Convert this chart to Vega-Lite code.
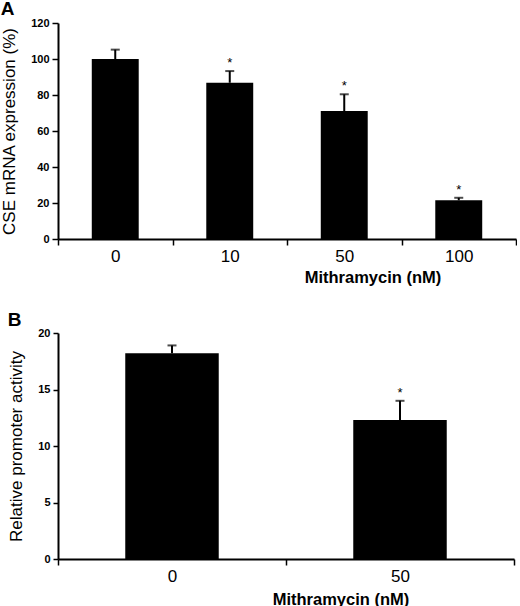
{
  "$schema": "https://vega.github.io/schema/vega-lite/v6.json",
  "padding": 0,
  "background": "white",
  "spacing": 25,
  "columns": 1,
  "align": "none",
  "config": {
    "font": "Liberation Sans",
    "view": {"stroke": null},
    "axis": {
      "grid": false,
      "domainColor": "black",
      "tickColor": "black",
      "labelColor": "black",
      "titleColor": "black",
      "domainWidth": 2,
      "tickWidth": 1.5
    },
    "title": {"anchor": "start", "frame": "bounds", "fontSize": 19, "fontWeight": "bold", "color": "black"}
  },
  "datasets": {
    "a": [
      {"dose": "0", "value": 100, "upper": 105.2, "sig": ""},
      {"dose": "10", "value": 86.8, "upper": 93.3, "sig": "*"},
      {"dose": "50", "value": 71.1, "upper": 80.4, "sig": "*"},
      {"dose": "100", "value": 21.5, "upper": 22.9, "sig": "*"}
    ],
    "b": [
      {"dose": "0", "value": 18.2, "upper": 18.9, "sig": ""},
      {"dose": "50", "value": 12.3, "upper": 14.0, "sig": "*"}
    ]
  },
  "concat": [
    {
      "title": {"text": "A", "offset": -2},
      "width": 458,
      "height": 216,
      "data": {"name": "a"},
      "encoding": {
        "x": {
          "field": "dose", "type": "nominal", "sort": null,
          "scale": {"paddingInner": 0, "paddingOuter": 0},
          "axis": {
            "labelAngle": 0, "tickBand": "extent", "labelFontSize": 17, "labelFontWeight": "normal",
            "tickSize": 6, "labelPadding": 3, "title": "Mithramycin (nM)", "titleFontSize": 16.5,
            "titleFontWeight": "bold", "titleX": 314.5, "titleY": 30, "titleAlign": "center", "titleBaseline": "top"
          }
        },
        "y": {
          "field": "value", "type": "quantitative", "title": "CSE mRNA expression (%)",
          "scale": {"domain": [0, 120]},
          "axis": {
            "values": [0, 20, 40, 60, 80, 100, 120], "labelFontSize": 11, "labelFontWeight": "bold",
            "tickSize": 6, "labelPadding": 3, "titleFontSize": 17, "titleFontWeight": "normal", "titlePadding": 12
          }
        }
      },
      "layer": [
        {"mark": {"type": "bar", "color": "black", "width": {"band": 0.41}}},
        {"mark": {"type": "rule", "color": "black", "strokeWidth": 2}, "encoding": {"y2": {"field": "upper"}}},
        {"mark": {"type": "tick", "color": "black", "thickness": 2, "size": 9},
         "encoding": {"y": {"field": "upper", "type": "quantitative", "title": "CSE mRNA expression (%)"}}},
        {"mark": {"type": "text", "color": "black", "fontSize": 13, "baseline": "alphabetic", "dy": -4},
         "encoding": {"y": {"field": "upper", "type": "quantitative", "title": "CSE mRNA expression (%)"}, "text": {"field": "sig"}}}
      ]
    },
    {
      "title": {"text": "B", "offset": -3},
      "width": 456,
      "height": 226,
      "data": {"name": "b"},
      "encoding": {
        "x": {
          "field": "dose", "type": "nominal", "sort": null,
          "scale": {"paddingInner": 0, "paddingOuter": 0},
          "axis": {
            "labelAngle": 0, "tickBand": "extent", "labelFontSize": 17, "labelFontWeight": "normal",
            "tickSize": 6, "labelPadding": 3, "title": "Mithramycin (nM)", "titleFontSize": 16.5,
            "titleFontWeight": "bold", "titleX": 282.5, "titleY": 32, "titleAlign": "center", "titleBaseline": "top"
          }
        },
        "y": {
          "field": "value", "type": "quantitative", "title": "Relative promoter activity",
          "scale": {"domain": [0, 20]},
          "axis": {
            "values": [0, 5, 10, 15, 20], "labelFontSize": 11, "labelFontWeight": "bold",
            "tickSize": 5, "labelPadding": 3, "titleFontSize": 17, "titleFontWeight": "normal", "titlePadding": 12
          }
        }
      },
      "layer": [
        {"mark": {"type": "bar", "color": "black", "width": {"band": 0.41}}},
        {"mark": {"type": "rule", "color": "black", "strokeWidth": 2}, "encoding": {"y2": {"field": "upper"}}},
        {"mark": {"type": "tick", "color": "black", "thickness": 2, "size": 9},
         "encoding": {"y": {"field": "upper", "type": "quantitative", "title": "Relative promoter activity"}}},
        {"mark": {"type": "text", "color": "black", "fontSize": 13, "baseline": "alphabetic", "dy": -4},
         "encoding": {"y": {"field": "upper", "type": "quantitative", "title": "Relative promoter activity"}, "text": {"field": "sig"}}}
      ]
    }
  ]
}
